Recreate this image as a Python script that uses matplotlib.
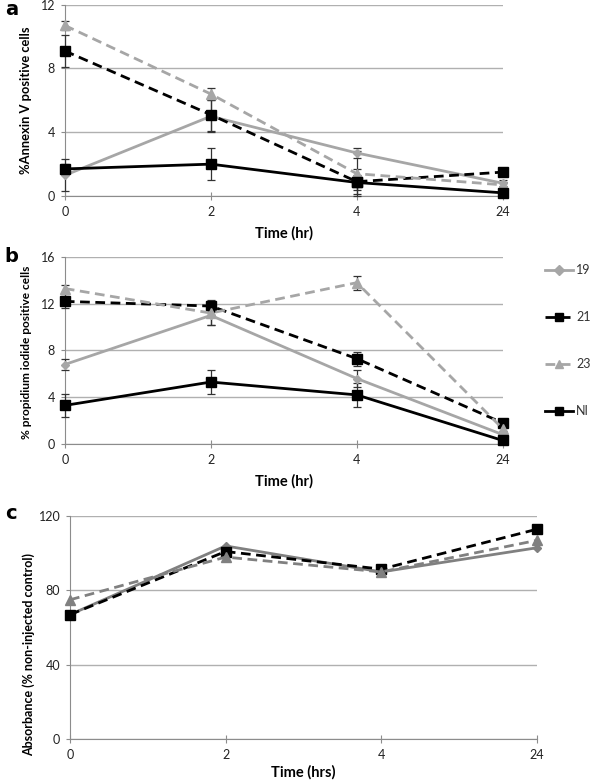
import matplotlib
matplotlib.use("Agg")
import matplotlib.pyplot as plt
import numpy as np

plt.rcParams['font.family'] = ['Lato', 'DejaVu Sans']

times = ['0', '2', '4', '24']
series = ['19', '21', '23', 'NI']

# panel a: % Annexin V positive cells
annexin = {
    '19': [1.3, 5.0, 2.7, 0.8],
    '21': [9.1, 5.1, 0.9, 1.5],
    '23': [10.7, 6.4, 1.4, 0.7],
    'NI': [1.7, 2.0, 0.85, 0.2],
}
annexin_err = {
    '19': [1.0, 1.0, 0.3, 0.2],
    '21': [1.0, 1.0, 0.8, 0.2],
    '23': [0.3, 0.4, 1.4, 0.2],
    'NI': [0.3, 1.0, 0.5, 0.1],
}

# panel b: % propidium iodide positive cells
pi_pos = {
    '19': [6.8, 11.0, 5.6, 0.8],
    '21': [12.2, 11.8, 7.3, 1.8],
    '23': [13.3, 11.2, 13.8, 1.3],
    'NI': [3.3, 5.3, 4.2, 0.3],
}
pi_err = {
    '19': [0.5, 0.8, 0.7, 0.2],
    '21': [0.6, 0.5, 0.6, 0.2],
    '23': [0.3, 1.0, 0.6, 0.2],
    'NI': [1.0, 1.0, 1.0, 0.1],
}

# panel c: absorbance (% non-injected control)
absorb = {
    '19': [67, 104, 90, 103],
    '21': [67, 101, 91.5, 113],
    '23': [75, 98, 90, 107],
}

light = '#a6a6a6'
mid = '#808080'
styles = {
    '19': dict(color=light, ls='-', marker='D', ms=4.5),
    '21': dict(color='black', ls=(0, (3.5, 2)), marker='s', ms=7),
    '23': dict(color=light, ls=(0, (3.5, 2)), marker='^', ms=7),
    'NI': dict(color='black', ls='-', marker='s', ms=7),
}

fig = plt.figure(figsize=(6, 7.81), dpi=100)


def style_axis(ax, ymax, step):
    x = np.arange(len(times))
    ax.set_xlim(0, len(times) - 1)
    ax.set_ylim(0, ymax)
    ax.set_yticks(np.arange(0, ymax + 1, step))
    ax.set_xticks(x)
    ax.set_xticklabels(times)
    ax.yaxis.grid(True, color='#b0b0b0', lw=1)
    ax.set_axisbelow(True)
    for s in ['top', 'right']:
        ax.spines[s].set_visible(False)
    for s in ['left', 'bottom']:
        ax.spines[s].set_color('#8c8c8c')
    ax.tick_params(axis='both', colors='#8c8c8c', labelcolor='#222222',
                   labelsize=9, length=3, pad=4)
    ax.tick_params(axis='x', direction='inout', length=6)


def draw(ax, data, err=None, colors=None):
    x = np.arange(len(times))
    handles = []
    for name in data:
        st = dict(styles[name])
        if colors:
            st['color'] = colors.get(name, st['color'])
        if err is not None:
            ax.errorbar(x, data[name], yerr=err[name], fmt='none', ecolor='#333333',
                        elinewidth=0.9, capsize=3, capthick=0.9, clip_on=False, zorder=3)
        h, = ax.plot(x, data[name], color=st['color'], ls=st['ls'], lw=2,
                     marker=st['marker'], ms=st['ms'], mfc=st['color'], mec=st['color'],
                     clip_on=False, zorder=4, label=name)
        handles.append(h)
    return handles


xlab = dict(fontsize=10.5, fontweight='bold')

ax_a = fig.add_axes([0.108, 0.749, 0.730, 0.245])
style_axis(ax_a, 12, 4)
draw(ax_a, annexin, annexin_err)
ax_a.set_ylabel('%Annexin V positive cells', fontsize=9.3, fontweight='bold')
ax_a.yaxis.set_label_coords(-0.075, 0.5)
ax_a.set_xlabel('Time (hr)', labelpad=6, **xlab)

ax_b = fig.add_axes([0.108, 0.4315, 0.730, 0.2395])
style_axis(ax_b, 16, 4)
hb = draw(ax_b, pi_pos, pi_err)
ax_b.set_ylabel('% propidium iodide positive cells', fontsize=8.6, fontweight='bold')
ax_b.yaxis.set_label_coords(-0.075, 0.49)
ax_b.set_xlabel('Time (hr)', labelpad=6, **xlab)

ax_c = fig.add_axes([0.1167, 0.0538, 0.778, 0.2852])
style_axis(ax_c, 120, 40)
draw(ax_c, absorb, colors={'19': mid, '23': mid})
ax_c.set_ylabel('Absorbance (% non-injected control)', fontsize=9, fontweight='bold')
ax_c.yaxis.set_label_coords(-0.075, 0.38)
ax_c.set_xlabel('Time (hrs)', labelpad=3, **xlab)

leg = fig.legend(handles=hb, labels=series, loc='upper left', bbox_to_anchor=(0.9, 0.668),
                 frameon=False, fontsize=9, handlelength=2.2, labelspacing=2.8,
                 handletextpad=0.3, borderaxespad=0, labelcolor='#333333')
for h in leg.legend_handles:
    h.set_markersize(5.5)

for letter, y in [('a', 0.988), ('b', 0.672), ('c', 0.342)]:
    fig.text(0.008, y, letter, fontsize=14, fontweight='bold', family='DejaVu Sans',
             va='center', ha='left')

fig.savefig('out.png', dpi=100)
